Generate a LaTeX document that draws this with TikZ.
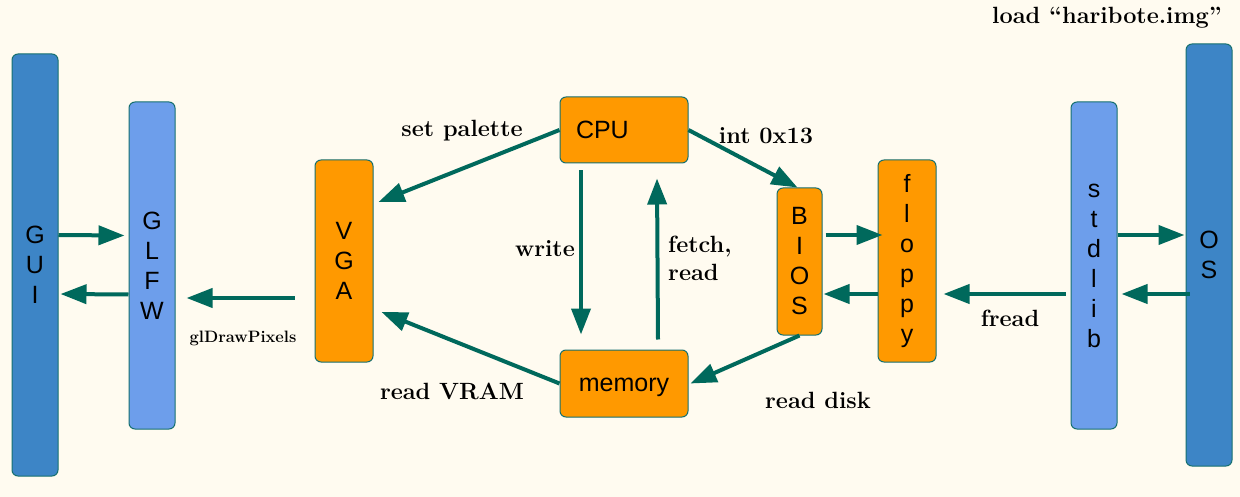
\documentclass[tikz,border=0pt]{standalone}
\usepackage{fontspec}
\setsansfont{Liberation Sans}
\usetikzlibrary{arrows.meta,calc}
\definecolor{bgc}{HTML}{FFFBF0}
\definecolor{darkblue}{HTML}{3D85C6}
\definecolor{lightblue}{HTML}{6D9EEB}
\definecolor{orangec}{HTML}{FF9900}
\definecolor{bordc}{HTML}{16706F}
\definecolor{arrc}{HTML}{00695C}
\begin{document}
\begin{tikzpicture}[x=1pt,y=-1pt,
  box/.style={draw=bordc, line width=1pt, rounded corners=6pt, inner sep=0pt,
    font=\sffamily\fontsize{25}{30}\selectfont, align=center},
  bar/.style={box, minimum width=46pt},
  conn/.style={draw=arrc, line width=4pt, -{Triangle[length=26pt,width=19pt]}},
  lbl/.style={font=\bfseries\fontsize{23.5}{28}\selectfont, text=black, inner sep=0pt}]
\path[fill=bgc] (0,0) rectangle (1240,497);
% nodes
\node[bar, fill=darkblue, minimum height=422pt] (gui) at (35,265) {G\\U\\I};
\node[bar, fill=lightblue, minimum height=327pt] (glfw) at (152,265.5) {G\\L\\F\\W};
\node[box, fill=orangec, minimum width=58pt, minimum height=202pt] (vga) at (344,261) {V\\G\\A};
\node[box, fill=orangec, minimum width=128pt, minimum height=66pt, text width=96pt, align=left] (cpu) at (624,130) {CPU};
\node[box, fill=orangec, minimum width=128pt, minimum height=67pt, text height=20pt, text depth=4pt] (mem) at (624,383.5) {memory};
\node[box, fill=orangec, minimum width=45pt, minimum height=147pt] (bios) at (799.5,261.5) {B\\I\\O\\S};
\node[box, fill=orangec, minimum width=58pt, minimum height=202pt] (floppy) at (907,261) {f\\l\\o\\p\\p\\y};
\node[bar, fill=lightblue, minimum height=327pt] (stdlib) at (1094,265.5) {s\\t\\d\\l\\i\\b};
\node[bar, fill=darkblue, minimum height=422pt] (os) at (1209,255) {O\\S};
% connectors
\draw[conn] ([yshift=30]gui.east) -- ([yshift=30,xshift=-4]glfw.west);
\draw[conn] ([yshift=-29]glfw.west) -- ([yshift=-29,xshift=2]gui.east);
\draw[conn] ([xshift=-20,yshift=-37]vga.west) -- ([xshift=11,yshift=-32.5]glfw.east);
\draw[conn] (cpu.west) -- ([xshift=5,yshift=59]vga.east);
\draw[conn] (mem.west) -- ([xshift=8,yshift=-51]vga.east);
\draw[conn] ([xshift=-43,yshift=-7]cpu.south) -- ([xshift=-43,yshift=15]mem.north);
\draw[conn] ([xshift=34,yshift=10]mem.north) -- ([xshift=33,yshift=-15]cpu.south);
\draw[conn] (cpu.east) -- ([xshift=-2]bios.north);
\draw[conn] (bios.south) -- ([xshift=2]mem.east);
\draw[conn] ([xshift=3,yshift=26.5]bios.east) -- ([xshift=5,yshift=26]floppy.west);
\draw[conn] ([yshift=-33]floppy.west) -- ([xshift=1,yshift=-32.5]bios.east);
\draw[conn] ([xshift=-5,yshift=-28.5]stdlib.west) -- ([xshift=7,yshift=-33]floppy.east);
\draw[conn] ([yshift=30.5]stdlib.east) -- ([xshift=-1,yshift=20]os.west);
\draw[conn] ([xshift=4,yshift=-39]os.west) -- ([xshift=4,yshift=-28.5]stdlib.east);
% labels
\node[lbl] (lpal) at (462,131) {set palette};
\node[lbl] (lvram) at (452,391) {read VRAM};
\node[lbl] (lwrite) at (545,249) {write};
\node[lbl, anchor=west, align=left] (lfetch) at (668,258) {fetch,\\read};
\node[lbl] (lint) at (766,136) {int 0x13};
\node[lbl] (ldisk) at (818,400) {read disk};
\node[lbl] (lfread) at (1010,318) {fread};
\node[lbl] (lload) at (1107,18) {load “haribote.img”};
\node[lbl, font=\bfseries\fontsize{16.5}{20}\selectfont] (lgl) at (243,338) {glDrawPixels};
\end{tikzpicture}
\end{document}
